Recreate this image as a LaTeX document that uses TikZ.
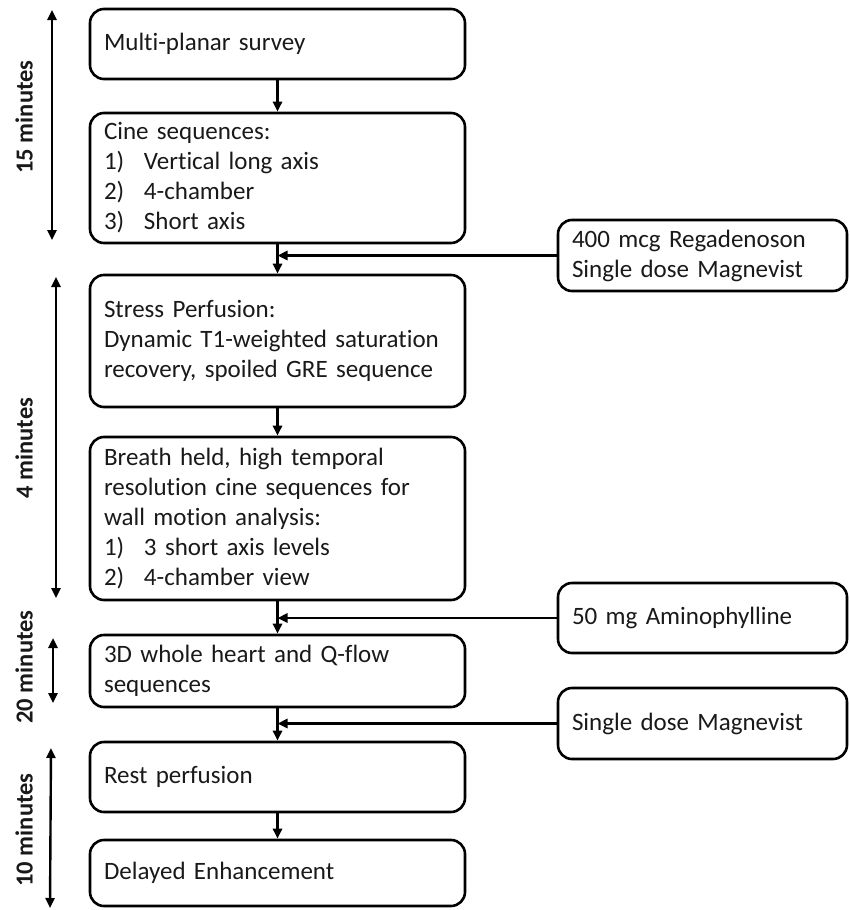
\documentclass[tikz,border=0pt]{standalone}
\usepackage{fontspec}
\setmainfont{Carlito}[Ligatures={NoCommon}]
\usetikzlibrary{arrows.meta}
\begin{document}
\begin{tikzpicture}[x=1pt,y=-1pt,
  font=\fontsize{25}{30}\selectfont,
  box/.style={draw=black, line width=2.6pt, rounded corners=14pt, align=left,
    inner xsep=14pt, inner ysep=0pt, text=black!90},
  mainbox/.style={box, minimum width=375pt, text width=347pt},
  sidebox/.style={box, minimum width=289pt, text width=261pt},
  flow/.style={line width=2.6pt, -{Triangle[length=10pt,width=9pt]}},
  span/.style={line width=2.4pt, {Triangle[length=10pt,width=9pt]}-{Triangle[length=10pt,width=9pt]}},
  timelbl/.style={font=\fontsize{24.5}{30}\selectfont\bfseries, rotate=90, text=black!90}
]
\useasboundingbox (0,0) rectangle (849,910);
\newcommand{\itm}[2]{\makebox[40pt][l]{#1}#2}

\node[mainbox, minimum height=70pt] (b1) at (277.5,44) {Multi-planar survey};
\node[mainbox, minimum height=130pt] (b2) at (277.5,178) {Cine sequences:\\ \itm{1)}{Vertical long axis}\\ \itm{2)}{4-chamber}\\ \itm{3)}{Short axis}};
\node[mainbox, minimum height=132pt] (b3) at (277.5,341) {Stress Perfusion:\\ Dynamic T1-weighted saturation\\ recovery, spoiled GRE sequence};
\node[mainbox, minimum height=163pt] (b4) at (277.5,518.5) {Breath held, high temporal\\ resolution cine sequences for\\ wall motion analysis:\\ \itm{1)}{3 short axis levels}\\ \itm{2)}{4-chamber view}};
\node[mainbox, minimum height=72pt] (b5) at (277.5,671) {3D whole heart and Q-flow\\ sequences};
\node[mainbox, minimum height=70pt] (b6) at (277.5,777) {Rest perfusion};
\node[mainbox, minimum height=66pt] (b7) at (277.5,873) {Delayed Enhancement};

\node[sidebox, minimum height=71pt] (sa) at (702.5,255.5) {400 mcg Regadenoson\\ Single dose Magnevist};
\node[sidebox, minimum height=70pt] (sb) at (702.5,618) {50 mg Aminophylline};
\node[sidebox, minimum height=71pt] (sc) at (702.5,723.5) {Single dose Magnevist};

\draw[flow] (b1) -- (b2);
\draw[flow] (b2) -- (b3);
\draw[flow] (b3) -- (b4);
\draw[flow] (b4) -- (b5);
\draw[flow] (b5) -- (b6);
\draw[flow] (b6) -- (b7);

\draw[flow] (sa.west) -- (sa.west -| b2.south);
\draw[flow] (sb.west) -- (sb.west -| b4.south);
\draw[flow] (sc.west) -- (sc.west -| b5.south);

\coordinate (t1a) at (52,10);  \coordinate (t1b) at (52,240);
\coordinate (t2a) at (56,277); \coordinate (t2b) at (56,598);
\coordinate (t3a) at (53,638); \coordinate (t3b) at (53,703);
\coordinate (t4a) at (51,748); \coordinate (t4b) at (50,908);
\draw[span] (t1a) -- (t1b);
\draw[span] (t2a) -- (t2b);
\draw[span] (t3a) -- (t3b);
\draw[span] (t4a) -- (t4b);

\node[timelbl] (l1) at (24,117) {15 minutes};
\node[timelbl] (l2) at (24,448) {4 minutes};
\node[timelbl] (l3) at (24,667) {20 minutes};
\node[timelbl] (l4) at (24,830) {10 minutes};
\end{tikzpicture}
\end{document}
